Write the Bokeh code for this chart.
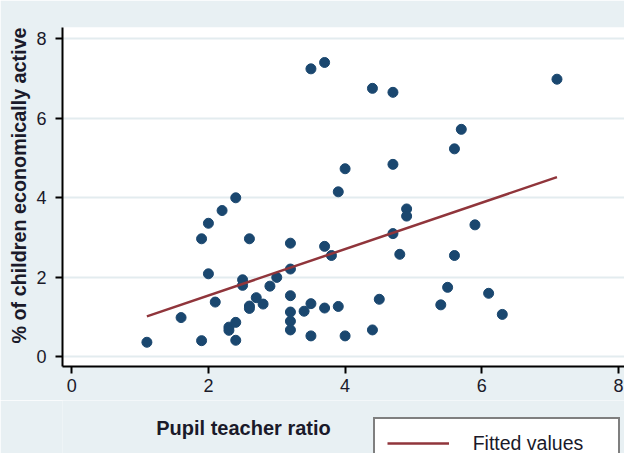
from bokeh.plotting import figure
from bokeh.models import Label, Legend, Range1d, FixedTicker, Title
from bokeh.layouts import column
from bokeh.embed import file_html
from bokeh.resources import INLINE

# ---- data ----
pupil_teacher_ratio = [1.1, 1.6, 1.9, 1.9, 2.0, 2.0, 2.1, 2.2, 2.3, 2.3,
                       2.4, 2.4, 2.4, 2.5, 2.5, 2.6, 2.6, 2.6, 2.7, 2.8,
                       2.9, 3.0, 3.2, 3.2, 3.2, 3.2, 3.2, 3.2, 3.4, 3.5,
                       3.5, 3.5, 3.7, 3.7, 3.7, 3.8, 3.9, 3.9, 4.0, 4.0,
                       4.4, 4.4, 4.5, 4.7, 4.7, 4.7, 4.8, 4.9, 4.9, 5.4,
                       5.5, 5.6, 5.6, 5.7, 5.9, 6.1, 6.3, 7.1]
pct_children_active = [0.37, 0.99, 0.41, 2.97, 3.36, 2.09, 1.38, 3.68, 0.75, 0.67,
                       0.87, 0.42, 4.00, 1.94, 1.80, 2.97, 1.28, 1.22, 1.49, 1.33,
                       1.78, 2.00, 2.86, 2.21, 1.54, 1.13, 0.90, 0.68, 1.15, 1.34,
                       0.53, 7.24, 7.40, 2.78, 1.23, 2.55, 4.15, 1.27, 4.73, 0.53,
                       6.75, 0.68, 1.45, 6.65, 4.84, 3.10, 2.58, 3.72, 3.54, 1.31,
                       1.75, 5.23, 2.55, 5.72, 3.32, 1.60, 1.07, 6.98]
fit_x = [1.1, 7.1]
fit_y = [1.02, 4.52]
x_ticks = [0, 2, 4, 6, 8]
y_ticks = [0, 2, 4, 6, 8]
x_title = "Pupil teacher ratio"
y_title = "% of children economically active"
legend_text = "Fitted values"

BG = "#e8f0f3"
GRID = "#e3ecef"
NAVY = "#1a476f"
MAROON = "#90353b"
FONT = "Liberation Sans"
TXT = "#1a1a2a"

W = 624
TOP_H = 400
BOT_H = 53

# ---- main plot ----
p = figure(width=W, height=TOP_H, output_backend="svg", toolbar_location=None,
           x_range=Range1d(-0.135, 8.088), y_range=Range1d(-0.239, 8.279),
           min_border_left=62, min_border_right=0, min_border_top=27,
           min_border_bottom=34,
           background_fill_color="white", border_fill_color=BG)
p.outline_line_color = None

p.xgrid.visible = False
p.ygrid.ticker = FixedTicker(ticks=y_ticks)
p.ygrid.grid_line_color = GRID
p.ygrid.grid_line_width = 2

for ax, ticks, standoff in ((p.xaxis[0], x_ticks, 5), (p.yaxis[0], y_ticks, 9)):
    ax.ticker = FixedTicker(ticks=ticks)
    ax.axis_line_color = "black"
    ax.axis_line_width = 2
    ax.major_tick_line_color = "black"
    ax.major_tick_line_width = 2
    ax.major_tick_out = 7
    ax.major_tick_in = 0
    ax.minor_tick_line_color = None
    ax.major_label_text_font = FONT
    ax.major_label_text_font_size = "18px"
    ax.major_label_text_color = TXT
    ax.major_label_standoff = standoff
    ax.axis_label = None

p.scatter(pupil_teacher_ratio, pct_children_active, size=10,
          fill_color=NAVY, line_color=NAVY)
p.line(fit_x, fit_y, line_color=MAROON, line_width=2.5)

p.add_layout(Title(text=y_title, align="left", offset=23, standoff=8,
                   text_font=FONT, text_font_size="19.75px",
                   text_font_style="bold", text_color=TXT), "left")

# ---- bottom strip: x title and legend (frame aligned with the plot above) ----
q = figure(width=W, height=BOT_H, output_backend="svg", toolbar_location=None,
           x_range=Range1d(0, 1), y_range=Range1d(0, 1),
           min_border_left=0, min_border_right=0, min_border_top=0,
           min_border_bottom=0, background_fill_color=BG, border_fill_color=BG)
q.outline_line_color = None
q.axis.visible = False
q.grid.visible = False
legend_line = q.line(fit_x, fit_y, line_color=MAROON, line_width=2.5)
legend_line.visible = False

legend = Legend(items=[(legend_text, [legend_line])], location=(310.7, -16),
                border_line_color="black", border_line_width=2,
                background_fill_color="white", background_fill_alpha=1.0,
                label_text_font=FONT, label_text_font_size="19.5px",
                label_text_color=TXT,
                glyph_width=62, glyph_height=24, label_height=24,
                label_width=133, label_standoff=24, padding=12,
                spacing=0, margin=0)
q.add_layout(legend)

q.add_layout(Label(x=181, y=26, x_units="screen", y_units="screen",
                   text=x_title, text_font=FONT, text_font_size="20px",
                   text_font_style="bold", text_color=TXT,
                   text_align="center", text_baseline="middle"))

layout = column(p, q, spacing=0)
open("out.html", "w").write(file_html(layout, INLINE))
